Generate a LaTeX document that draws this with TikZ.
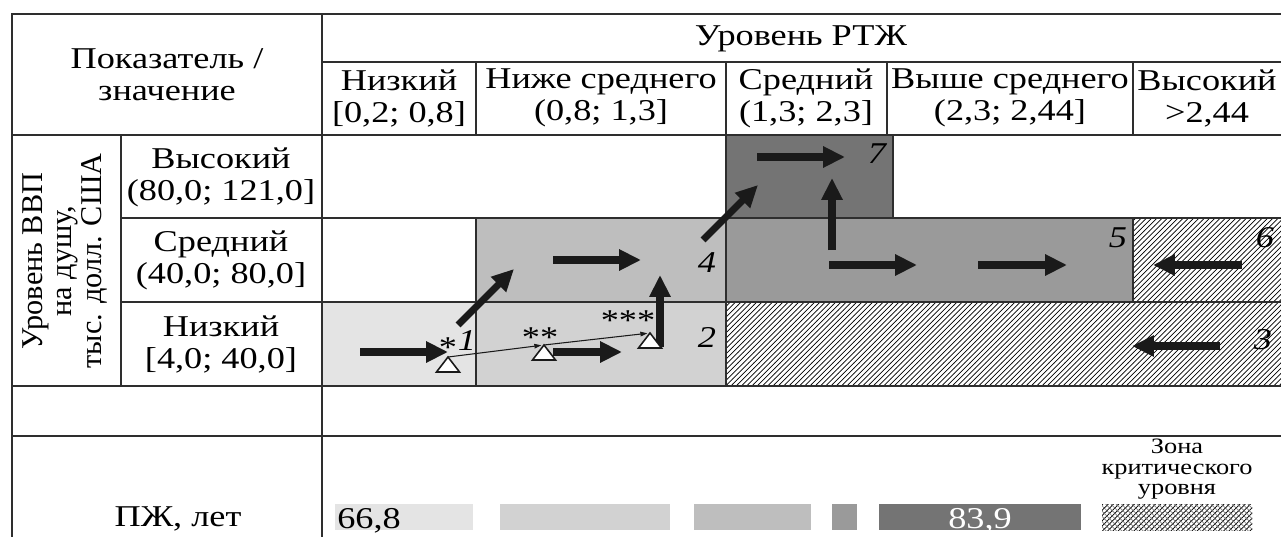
\documentclass[tikz,border=0pt]{standalone}
\usepackage{fontspec}
\setmainfont{Liberation Serif}[FakeStretch=1.2]
\newfontfamily\plainserif{Liberation Serif}
\usetikzlibrary{arrows.meta,patterns,positioning}

\definecolor{lvlA}{HTML}{E4E4E4}
\definecolor{lvlB}{HTML}{D2D2D2}
\definecolor{lvlC}{HTML}{BEBEBE}
\definecolor{lvlD}{HTML}{9A9A9A}
\definecolor{lvlE}{HTML}{747474}
\definecolor{rulegray}{HTML}{2E2E2E}
\definecolor{ink}{HTML}{1A1A1A}

\tikzstyle{tabline} = [draw=rulegray, line width=1.1pt]
\tikzstyle{txt} = [align=center, inner sep=0pt, font=\fontsize{17.2}{18.2}\selectfont]
\tikzstyle{digit} = [inner sep=0pt, font=\fontsize{17.2}{18.2}\selectfont\itshape]
\tikzstyle{flow} = [draw=ink, line width=4pt, -{Triangle[length=12.5pt,width=11.5pt]}]
\tikzstyle{drift} = [draw=ink, line width=0.6pt, -{Triangle[length=4pt,width=2.6pt]}, shorten >=1.5pt]
\tikzstyle{tribox} = [draw=ink, fill=white, line width=0.9pt]
\tikzstyle{hatched} = [pattern=north east lines]

\begin{document}
\begin{tikzpicture}[x=0.02cm, y=-0.02cm]
		\useasboundingbox (0,0) rectangle (1281,537);
		% Fill level zones
		\fill[lvlA] (322,302) rectangle (476,386);
		\fill[lvlB] (476,302) rectangle (726,386);
		\fill[lvlC] (476,218) rectangle (726,302);
		\fill[lvlD] (726,218) rectangle (1133,302);
		\fill[lvlE] (726,135) rectangle (893,218);
		\path[hatched] (1133,218) rectangle (1281,302);
		\path[hatched] (726,302) rectangle (1281,386);
		% Draw table lines
		\draw[tabline] (1281,14) -- (12,14) -- (12,537);
		\draw[tabline] (322,14) -- (322,537);
		\draw[tabline] (322,62) -- (1281,62);
		\foreach \y/\x in {135/12, 218/121, 302/121, 386/12, 436/12}
			\draw[tabline] (\x,\y) -- (1281,\y);
		\draw[tabline] (121,135) -- (121,386);
		\foreach \x in {476,726,887,1133}
			\draw[tabline] (\x,62) -- (\x,135);
		\draw[tabline] (476,218) -- (476,386);
		\draw[tabline] (726,135) -- (726,386);
		\draw[tabline] (893,135) -- (893,218);
		\draw[tabline] (1133,218) -- (1133,302);
		% Draw header texts
		\node[txt] (param) at (167,75) {Показатель /\\значение};
		\node[txt] (rtzh) at (801,39) {Уровень РТЖ};
		\node[txt] (colA) at (399,98) {Низкий\\{}[0,2; 0,8]};
		\node[txt] (colB) at (601,98) {Ниже среднего\\(0,8; 1,3]};
		\node[txt] (colC) at (806,98) {Средний\\(1,3; 2,3]};
		\node[txt] (colD) at (1010,98) {Выше среднего\\(2,3; 2,44]};
		\node[txt] (colE) at (1207,98) {Высокий\\>2,44};
		\node[txt] (rowA) at (221,177) {Высокий\\(80,0; 121,0]};
		\node[txt] (rowB) at (221,260) {Средний\\(40,0; 80,0]};
		\node[txt] (rowC) at (221,344) {Низкий\\{}[4,0; 40,0]};
		\node[txt, rotate=90, font=\plainserif\fontsize{17.2}{17}\selectfont] (gdp) at (65,261)
			{Уровень ВВП\\на душу,\\тыс. долл. США};
		% Draw zone numbers
		\node[digit] (z1) at (467,341) {1};
		\node[digit] (z2) at (707,337) {2};
		\node[digit] (z3) at (1263,340) {3};
		\node[digit] (z4) at (707,263) {4};
		\node[digit] (z5) at (1118,238) {5};
		\node[digit] (z6) at (1265,238) {6};
		\node[digit] (z7) at (877,154) {7};
		\node[txt, anchor=north] (s1) at (448,337) {*};
		\node[txt, anchor=north] (s2) at (540,327) {**};
		\node[txt, anchor=north] (s3) at (628,310) {***};
		% Draw transition arrows
		\draw[flow] (360,352) -- (448,352);
		\draw[flow] (458,325) -- (514,269);
		\draw[flow] (553,352) -- (622,352);
		\draw[flow] (660,347) -- (660,275);
		\draw[flow] (553,260) -- (641,260);
		\draw[flow] (703,240) -- (758,185);
		\draw[flow] (757,157) -- (845,157);
		\draw[flow] (832,250) -- (832,178);
		\draw[flow] (829,265) -- (917,265);
		\draw[flow] (978,265) -- (1067,265);
		\draw[flow] (1242,265) -- (1153,265);
		\draw[flow] (1220,346) -- (1132,346);
		% Draw country points
		\coordinate (tip1) at (448,357);
		\coordinate (tip2) at (544,345);
		\coordinate (tip3) at (650,333);
		\foreach \t in {tip1,tip2,tip3}
			\draw[tribox] (\t) -- ++(11.5,15) -- ++(-23,0) -- cycle;
		\draw[drift] (tip1) -- (tip2);
		\draw[drift] (tip2) -- (tip3);
		% Draw life expectancy scale
		\node[txt] (lifeexp) at (178,519) {ПЖ, лет};
		\fill[lvlA] (335,504) rectangle (473,530);
		\fill[lvlB] (500,504) rectangle (670,530);
		\fill[lvlC] (694,504) rectangle (811,530);
		\fill[lvlD] (832,504) rectangle (857,530);
		\fill[lvlE] (879,504) rectangle (1081,530);
		\path[hatched] (1102,504) rectangle (1252,530);
		\path[pattern=crosshatch dots] (1102,504) rectangle (1252,530);
		\path[pattern=north west lines, pattern color=gray] (1102,504) rectangle (1252,530);
		\node[txt, anchor=base west] (minval) at (337,528) {66,8};
		\node[txt, anchor=base, text=white] (maxval) at (980,528) {83,9};
		\node[txt, anchor=north, font=\fontsize{12.5}{11.6}\selectfont] (critzone) at (1177,439)
			{Зона\\критического\\уровня};
	\end{tikzpicture}
\end{document}
